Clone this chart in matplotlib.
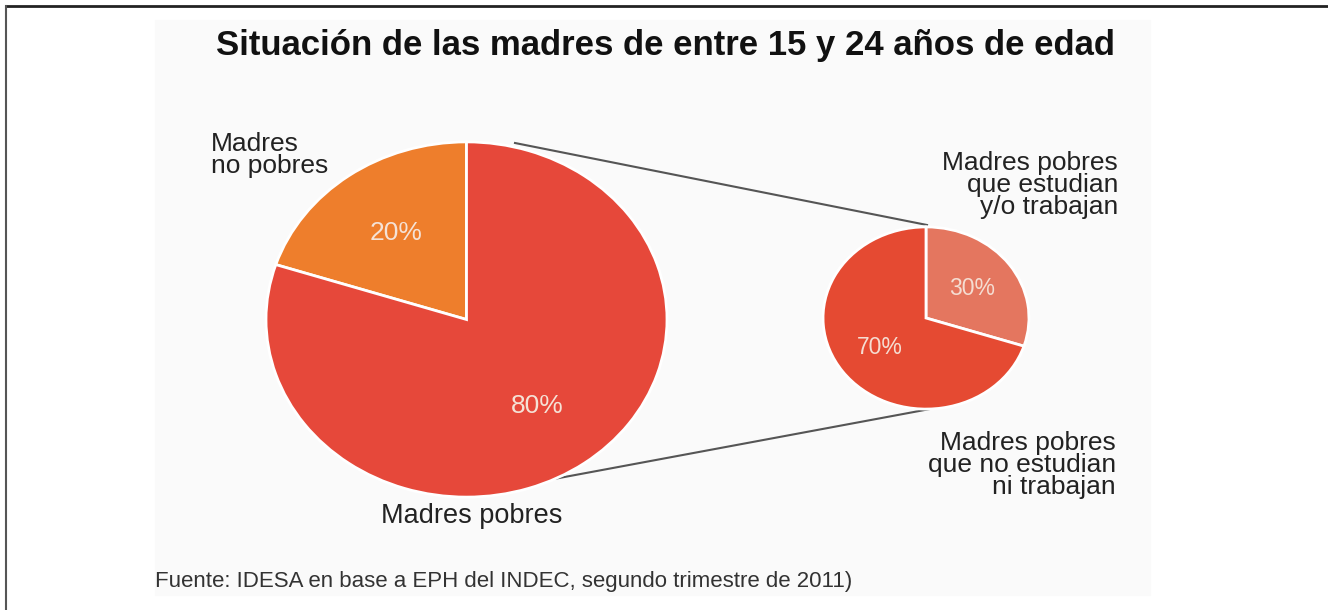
import matplotlib.pyplot as plt
from matplotlib.patches import Rectangle

plt.rcParams['font.family'] = ['Liberation Sans', 'DejaVu Sans']

# data
main_labels = ['Madres no pobres', 'Madres pobres']
main_values = [20, 80]
main_colors = ['#EE7E2C', '#E6483A']

sub_labels = ['Madres pobres que estudian y/o trabajan', 'Madres pobres que no estudian ni trabajan']
sub_values = [30, 70]
sub_colors = ['#E4765F', '#E54A32']

title = 'Situación de las madres de entre 15 y 24 años de edad'
source = 'Fuente: IDESA en base a EPH del INDEC, segundo trimestre de 2011)'

W, H = 1328, 610
fig = plt.figure(figsize=(W / 100, H / 100), dpi=100)

# overlay axes in pixel coords for text, frame and connectors
ov = fig.add_axes([0, 0, 1, 1])
ov.set_xlim(0, W)
ov.set_ylim(H, 0)
ov.axis('off')
ov.add_patch(Rectangle((155, 20), 995, 575, color='#fafafa', zorder=0))
ov.plot([6, W], [6, 6], color='#222222', lw=2)
ov.plot([6, 6], [6, H], color='#555555', lw=1.5)


def pie_axes(x0, y0, x1, y1):
    return fig.add_axes([x0 / W, 1 - y1 / H, (x1 - x0) / W, (y1 - y0) / H])


# big pie (slightly stretched horizontally like the original)
ax1 = pie_axes(265, 141, 668, 498)
w1, t1, a1 = ax1.pie(main_values, colors=main_colors, startangle=90, counterclock=True,
                     autopct='%.0f%%', pctdistance=0.6,
                     wedgeprops=dict(edgecolor='white', linewidth=2),
                     textprops=dict(color='#f5e2d6', fontsize=19))
ax1.set_aspect('auto')
ax1.set_xlim(-1.005, 1.005)
ax1.set_ylim(-1.005, 1.005)

# small pie
ax2 = pie_axes(822, 226, 1030, 410)
w2, t2, a2 = ax2.pie(sub_values, colors=sub_colors, startangle=90, counterclock=False,
                     autopct='%.0f%%', pctdistance=0.55,
                     wedgeprops=dict(edgecolor='white', linewidth=2),
                     textprops=dict(color='#f5ddd2', fontsize=16.5))
ax2.set_aspect('auto')
ax2.set_xlim(-1.01, 1.01)
ax2.set_ylim(-1.01, 1.01)

# connectors between the pies
ov.plot([515, 927], [143, 225], color='#555555', lw=1.5, zorder=1)
ov.plot([500, 930], [489, 409], color='#555555', lw=1.5, zorder=1)

ov.text(665, 55, title, fontsize=25, fontweight='bold', ha='center', va='baseline', color='#111111')
ov.text(211, 132, 'Madres\nno pobres', fontsize=19, ha='left', va='top',
        linespacing=0.9, color='#222222')
ov.text(472, 523, 'Madres pobres', fontsize=19.5, ha='center', va='baseline', color='#222222')
ov.text(1118, 151, 'Madres pobres\nque estudian\ny/o trabajan', fontsize=19, ha='right',
        va='top', linespacing=0.9, color='#222222')
ov.text(1116, 431, 'Madres pobres\nque no estudian\nni trabajan', fontsize=19, ha='right',
        va='top', linespacing=0.9, color='#222222')
ov.text(155, 581, source, fontsize=16, ha='left', va='center', color='#333333')

fig.savefig('out.png', dpi=100)
